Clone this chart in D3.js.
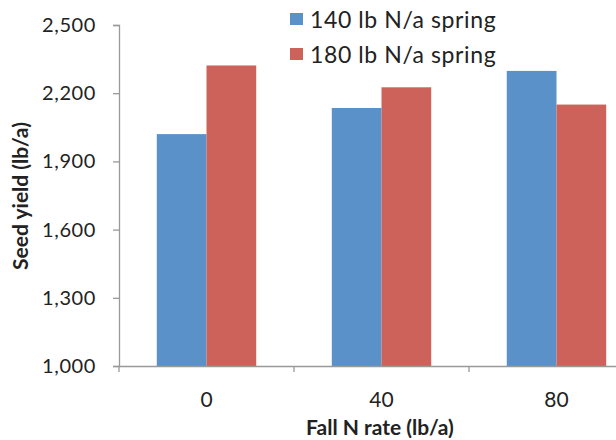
<!DOCTYPE html>
<html>
<head>
<meta charset="utf-8">
<script src="https://cdn.jsdelivr.net/npm/d3@7"></script>
<style>
html,body{margin:0;padding:0;background:#fff;}
svg{display:block;}
text{font-family:Lato,"Open Sans",sans-serif;fill:#222;}
</style>
</head>
<body>
<svg id="chart" width="616" height="440"></svg>
<script>
const categories = ["0", "40", "80"];
const seriesNames = ["140 lb N/a spring", "180 lb N/a spring"];
const spring140 = [2020, 2135, 2298];
const spring180 = [2322, 2226, 2150];
const yTicks = [1000, 1300, 1600, 1900, 2200, 2500];
const colors = ["#5B91C9", "#CD625B"];

const svg = d3.select("#chart");
const plotLeft = 119, plotRight = 644, plotTop = 25, plotBottom = 366;

const x = d3.scaleBand().domain(categories).range([plotLeft, plotRight]).paddingInner(0).paddingOuter(0);
const xs = d3.scaleBand().domain([0, 1]).range([0, x.bandwidth()]).paddingInner(0).paddingOuter(0.76);
const y = d3.scaleLinear().domain([1000, 2500]).range([plotBottom, plotTop]);

const data = categories.map((c, i) => ({cat: c, vals: [spring140[i], spring180[i]]}));

// bars
const g = svg.append("g");
data.forEach(d => {
  d.vals.forEach((v, k) => {
    g.append("rect")
      .attr("x", x(d.cat) + xs(k))
      .attr("y", y(v))
      .attr("width", xs.bandwidth())
      .attr("height", y(1000) - y(v))
      .attr("fill", colors[k]);
  });
});

// y axis
const yAxis = d3.axisLeft(y).tickValues(yTicks).tickFormat(d3.format(",")).tickSizeOuter(0).tickSize(6).tickPadding(17);
const ya = svg.append("g").attr("transform", `translate(${plotLeft},0)`).call(yAxis);
ya.select(".domain").attr("stroke", "#999").attr("stroke-width", 1.3);
ya.selectAll(".tick line").attr("stroke", "#999").attr("stroke-width", 1.3);
ya.selectAll(".tick text").attr("font-size", 20).attr("font-family", "Lato, sans-serif")
  .attr("letter-spacing", "0.6px").attr("fill", "#222");

// x axis
const xAxis = d3.axisBottom(x).tickSize(0).tickPadding(26).tickSizeOuter(0);
const xa = svg.append("g").attr("transform", `translate(0,${plotBottom})`).call(xAxis);
xa.select(".domain").attr("stroke", "#999").attr("stroke-width", 1.3);
xa.selectAll(".tick text").attr("font-size", 21).attr("font-family", "Lato, sans-serif").attr("fill", "#222");
// category separator ticks
const seps = [plotLeft].concat(categories.slice(1).map(c => x(c)));
svg.append("g").selectAll("line").data(seps).join("line")
  .attr("x1", d => d).attr("x2", d => d)
  .attr("y1", plotBottom).attr("y2", plotBottom + 6)
  .attr("stroke", "#999").attr("stroke-width", 1.3);

// axis titles
svg.append("text")
  .attr("x", 380)
  .attr("y", 435)
  .attr("text-anchor", "middle")
  .attr("font-size", 21)
  .attr("font-weight", "bold")
  .text("Fall N rate (lb/a)");

svg.append("text")
  .attr("transform", `translate(28,196) rotate(-90)`)
  .attr("text-anchor", "middle")
  .attr("font-size", 21)
  .attr("font-weight", "bold")
  .text("Seed yield (lb/a)");

// legend
const legend = svg.append("g");
seriesNames.forEach((name, k) => {
  const ly = 13 + k * 35;
  legend.append("rect").attr("x", 290).attr("y", ly).attr("width", 13).attr("height", 12).attr("fill", colors[k]);
  legend.append("text").attr("x", 310).attr("y", ly + 15).attr("font-size", 23)
    .attr("letter-spacing", "0.6px").text(name);
});
</script>
</body>
</html>
